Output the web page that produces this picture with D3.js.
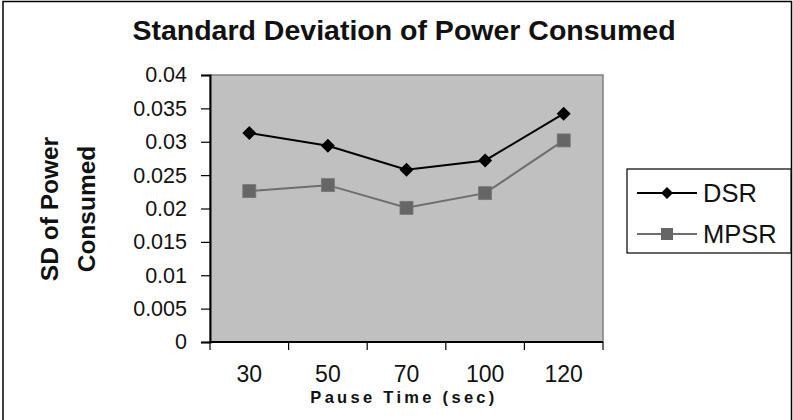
<!DOCTYPE html>
<html>
<head>
<meta charset="utf-8">
<script src="https://cdn.jsdelivr.net/npm/d3@7/dist/d3.min.js"></script>
<style>
  html, body { margin: 0; padding: 0; background: #fff; }
  svg { display: block; font-family: "Liberation Sans", Arial, sans-serif; }
</style>
</head>
<body>
<svg id="chart" width="793" height="420"></svg>
<script>
const categories = ["30", "50", "70", "100", "120"];
const dsrValues  = [0.0313, 0.0294, 0.0258, 0.0272, 0.0342];
const mpsrValues = [0.0226, 0.0235, 0.0201, 0.0223, 0.0302];
const yTickValues = [0, 0.005, 0.01, 0.015, 0.02, 0.025, 0.03, 0.035, 0.04];
const yTickLabels = ["0", "0.005", "0.01", "0.015", "0.02", "0.025", "0.03", "0.035", "0.04"];
const seriesNames = ["DSR", "MPSR"];

const svg = d3.select("#chart");
const W = 793, H = 420;
const plot = { left: 210, right: 603, top: 75, bottom: 342 };

// outer frame
svg.append("path")
  .attr("d", `M3,${H} V1.5 H791.5 V${H}`)
  .attr("fill", "none").attr("stroke", "#000").attr("stroke-width", 1.5);

const x = d3.scaleBand().domain(categories).range([plot.left, plot.right]).padding(0);
const y = d3.scaleLinear().domain([0, 0.04]).range([plot.bottom, plot.top]);

// plot background
svg.append("rect")
  .attr("x", plot.left).attr("y", plot.top)
  .attr("width", plot.right - plot.left).attr("height", plot.bottom - plot.top)
  .attr("fill", "#c0c0c0").attr("stroke", "#808080").attr("stroke-width", 1.5);

// Y axis
const yAxis = d3.axisLeft(y).tickValues(yTickValues)
  .tickFormat((d, i) => yTickLabels[i]).tickSize(9).tickPadding(14);
const gy = svg.append("g").attr("transform", `translate(${plot.left},0)`).call(yAxis);
gy.select(".domain").attr("stroke", "#000").attr("stroke-width", 2);
gy.selectAll(".tick line").attr("stroke", "#000").attr("stroke-width", 1.2);
gy.selectAll(".tick text").attr("font-size", 21.5).attr("fill", "#111")
  .attr("font-family", "'Liberation Sans', Arial, sans-serif");

// X axis: labels at band centers, tick marks at band boundaries
const xAxis = d3.axisBottom(x).tickSize(0).tickPadding(24);
const gx = svg.append("g").attr("transform", `translate(0,${plot.bottom})`).call(xAxis);
gx.select(".domain").remove();
gx.selectAll(".tick text").attr("font-size", 23).attr("fill", "#111")
  .attr("font-family", "'Liberation Sans', Arial, sans-serif");
const boundaries = categories.map(c => x(c)).concat([x(categories[categories.length - 1]) + x.bandwidth()]);
svg.append("g").selectAll("line").data(boundaries).join("line")
  .attr("x1", d => d).attr("x2", d => d)
  .attr("y1", plot.bottom).attr("y2", plot.bottom + 8)
  .attr("stroke", "#000").attr("stroke-width", 1.2);
svg.append("line")
  .attr("x1", plot.left - 1).attr("x2", plot.right)
  .attr("y1", plot.bottom).attr("y2", plot.bottom)
  .attr("stroke", "#000").attr("stroke-width", 2);

const cx = d => x(d) + x.bandwidth() / 2;
const line = d3.line().x((d, i) => cx(categories[i])).y(d => y(d));

// MPSR
svg.append("path").datum(mpsrValues).attr("d", line)
  .attr("fill", "none").attr("stroke", "#6e6e6e").attr("stroke-width", 2);
svg.append("g").selectAll("rect").data(mpsrValues).join("rect")
  .attr("x", (d, i) => cx(categories[i]) - 6.5).attr("y", d => y(d) - 6.5)
  .attr("width", 13).attr("height", 13)
  .attr("fill", "#666").attr("stroke", "#777").attr("stroke-width", 0.8);

// DSR
svg.append("path").datum(dsrValues).attr("d", line)
  .attr("fill", "none").attr("stroke", "#000").attr("stroke-width", 2);
const diamond = "M0,-7 L7,0 L0,7 L-7,0 Z";
svg.append("g").selectAll("path").data(dsrValues).join("path")
  .attr("d", diamond)
  .attr("transform", (d, i) => `translate(${cx(categories[i])},${y(d)})`)
  .attr("fill", "#000");

// Title
svg.append("text").attr("x", 404).attr("y", 40).attr("text-anchor", "middle")
  .attr("font-size", 28.5).attr("font-weight", "bold").attr("fill", "#111")
  .text("Standard Deviation of Power Consumed");

// Y axis title
const yt = svg.append("text")
  .attr("transform", "translate(0,209) rotate(-90)")
  .attr("text-anchor", "middle").attr("font-size", 24.5).attr("font-weight", "bold").attr("fill", "#111");
yt.append("tspan").attr("x", 0).attr("y", 58).text("SD of Power");
yt.append("tspan").attr("x", 0).attr("y", 95).text("Consumed");

// X axis title
svg.append("text").attr("x", 404).attr("y", 403).attr("text-anchor", "middle")
  .attr("font-size", 16.5).attr("font-weight", "bold").attr("fill", "#111")
  .attr("letter-spacing", 3.3)
  .text("Pause Time (sec)");

// Legend
const lg = svg.append("g");
lg.append("rect").attr("x", 627).attr("y", 169).attr("width", 164).attr("height", 84)
  .attr("fill", "#fff").attr("stroke", "#000").attr("stroke-width", 1.2);
const legendRows = [
  { name: seriesNames[0], y: 193, color: "#000", marker: "diamond" },
  { name: seriesNames[1], y: 234, color: "#6e6e6e", marker: "square" }
];
legendRows.forEach(r => {
  lg.append("line").attr("x1", 637).attr("x2", 697).attr("y1", r.y).attr("y2", r.y)
    .attr("stroke", r.color).attr("stroke-width", 2);
  if (r.marker === "diamond") {
    lg.append("path").attr("d", "M0,-6 L6,0 L0,6 L-6,0 Z")
      .attr("transform", `translate(667,${r.y})`).attr("fill", "#000");
  } else {
    lg.append("rect").attr("x", 661).attr("y", r.y - 6).attr("width", 12).attr("height", 12)
      .attr("fill", "#666");
  }
  lg.append("text").attr("x", 703).attr("y", r.y + 9)
    .attr("font-size", 25.5).attr("fill", "#111").text(r.name);
});
</script>
</body>
</html>
